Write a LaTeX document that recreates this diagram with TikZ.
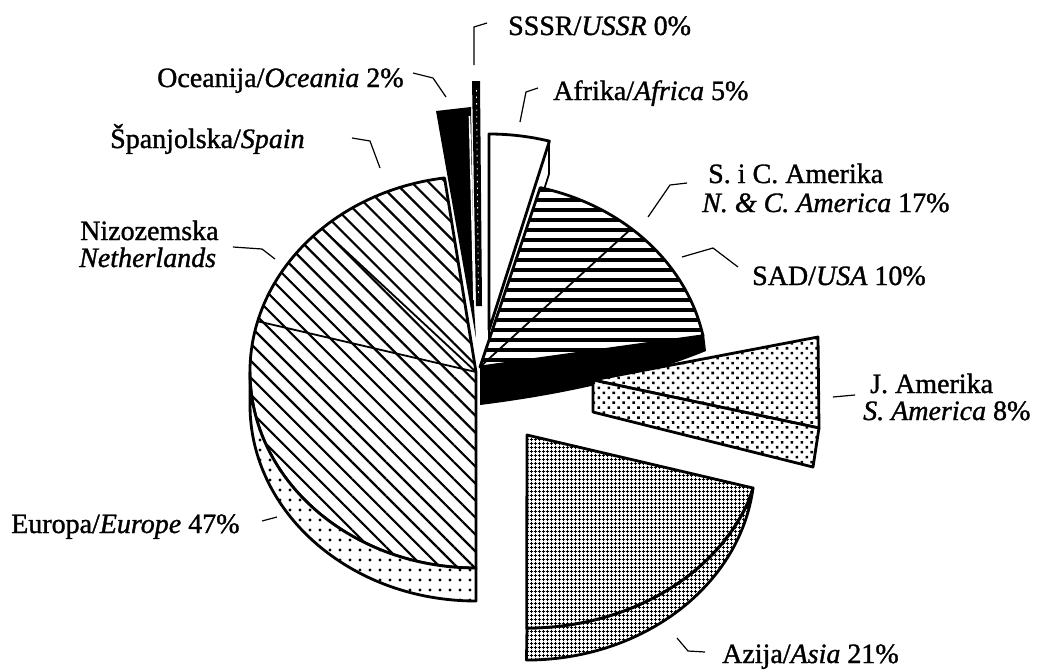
\documentclass[tikz,border=0pt]{standalone}
\usepackage{fontspec}
\setmainfont{Liberation Serif}
\newfontfamily\lblfont{Liberation Serif}[FakeBold=1.2]
\usetikzlibrary{patterns.meta}
\begin{document}
\begin{tikzpicture}[x=1pt,y=-1pt,
  edge/.style={line width=2.8pt, line join=round},
  thinedge/.style={line width=1.8pt, line join=round},
  lbl/.style={anchor=base west, inner sep=0pt, font=\lblfont\fontsize{28}{30}\selectfont},
  leader/.style={line width=1.2pt},
  eurohatch/.style={preaction={fill=white}, pattern={Lines[angle=-45,distance=12pt,line width=2.2pt]}},
  eurodots/.style={preaction={fill=white}, pattern={Dots[distance=10pt,radius=1.6pt]}},
  nchatch/.style={preaction={fill=white}, pattern={Lines[angle=0,distance=10pt,line width=3.4pt]}},
  sadots/.style={preaction={fill=white}, pattern={Dots[distance=7pt,angle=45,radius=1.8pt]}},
  asiagrid/.style={preaction={fill=white}, pattern={Hatch[angle=0,distance=4pt,line width=0.9pt]}}
]
\useasboundingbox (0,0) rectangle (1039,670);

% USSR 0% and Oceania 2%
\fill (436,111) -- (471,107) -- (474,306) -- (476,338) -- cycle;
\fill (472,81) -- (480,81) -- (482,306) -- (476,306) -- cycle;
\draw[white, line width=1.6pt] (469.5,116) -- (474,300);
\draw[white, line width=0.8pt, dash pattern=on 1.5pt off 5pt] (476.5,90) -- (478.5,298);

% Africa 5%
\draw[thinedge, fill=white] (549,141) -- (549,174) -- (489,363) -- (489,330) -- cycle;
\draw[edge, fill=white] (489,330) -- (489,134) arc[start angle=-90, end angle=-74.5, x radius=226, y radius=196] -- cycle;

% Europe 47% (top and side)
\coordinate (E) at (476,372);
\draw[edge, eurohatch] (E) -- ++(-98:226 and 196) arc[start angle=-98, end angle=-270, x radius=226, y radius=196] -- cycle;
\draw[edge, eurodots] (E) ++(-180:226 and 196) arc[start angle=-180, end angle=-270, x radius=226, y radius=196] -- ++(0,33) arc[start angle=-270, end angle=-180, x radius=226, y radius=196] -- cycle;
% Spain and Netherlands divisions
\draw[thinedge] (E) -- ++(-133:226 and 196);
\draw[thinedge] (E) -- ++(-165:226 and 196);

% N. & C. America 17% / USA 10%
\fill (480,367) -- (704,334) -- (706,351) .. controls (640,378) and (560,395) .. (480,405) -- cycle;
\coordinate (N) at (487,372);
\draw[edge, nchatch] (N) ++(-76:220 and 190) arc[start angle=-76, end angle=-11, x radius=220, y radius=190] -- (480,367) -- cycle;
\draw[thinedge] (N) ++(-49:220 and 190) -- (481,366);

% South America 8%
\draw[edge, sadots] (593,380) -- (818,337) -- (819,428) -- cycle;
\draw[edge, sadots] (593,380) -- (819,428) -- (813,467) -- (593,412) -- cycle;

% Asia 21%
\draw[edge, asiagrid] (753,488) arc[start angle=6.5, end angle=90, x radius=228, y radius=194] -- (527,628) arc[start angle=90, end angle=20.3, x radius=236, y radius=193] -- cycle;
\draw[edge, asiagrid] (527,435) -- (753,488) -- (748,502) arc[start angle=20.3, end angle=90, x radius=236, y radius=193] -- cycle;

% labels
\node[lbl] (ussr) at (508,35) {SSSR/\textit{USSR} 0\%};
\node[lbl] (ocea) at (157,87) {Oceanija/\textit{Oceania} 2\%};
\node[lbl] (afr) at (553,100) {Afrika/\textit{Africa} 5\%};
\node[lbl] (spa) at (110,148) {Španjolska/\textit{Spain}};
\node[lbl] (niz) at (80,240) {Nizozemska};
\node[lbl] (neth) at (79,267) {\textit{Netherlands}};
\node[lbl] (eur) at (11,533) {Europa/\textit{Europe} 47\%};
\node[lbl] (nca1) at (708,183) {S. i C. Amerika};
\node[lbl] (nca2) at (702,212) {\textit{N. \& C. America} 17\%};
\node[lbl] (usa) at (752,285) {SAD/\textit{USA} 10\%};
\node[lbl] (sa1) at (870,393) {J. Amerika};
\node[lbl] (sa2) at (863,420) {\textit{S. America} 8\%};
\node[lbl] (asia) at (722,663) {Azija/\textit{Asia} 21\%};

% leaders
\draw[leader] (474,65) -- (474,27) -- (487,23);
\draw[leader] (413,73) -- (433,78) -- (446,97);
\draw[leader] (538,88) -- (526,92) -- (520,122);
\draw[leader] (352,138) -- (370,141) -- (380,168);
\draw[leader] (233,247) -- (262,249) -- (275,259);
\draw[leader] (262,521) -- (277,517);
\draw[leader] (687,183) -- (670,185) -- (648,217);
\draw[leader] (682,257) -- (713,248) -- (738,267);
\draw[leader] (833,397) -- (855,395);
\draw[leader] (677,638) -- (688,651) -- (705,652);
\end{tikzpicture}
\end{document}
